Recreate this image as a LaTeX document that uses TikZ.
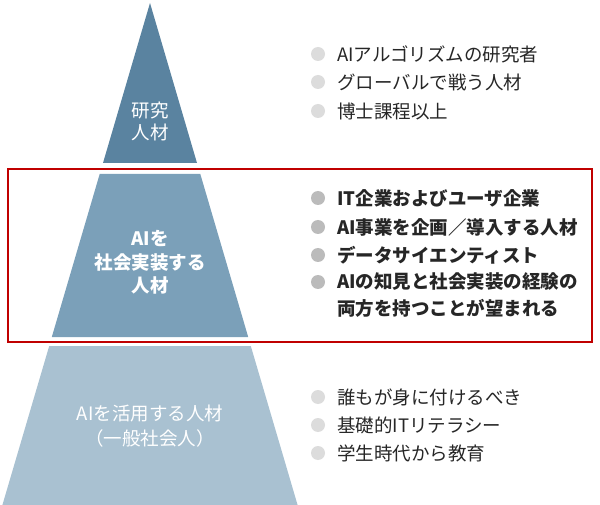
\documentclass[tikz,border=0pt]{standalone}
\usepackage{fontspec}
\setmainfont{Noto Sans CJK JP}
\definecolor{topc}{HTML}{5A83A0}
\definecolor{midc}{HTML}{7BA0B9}
\definecolor{botc}{HTML}{A9C1D1}
\definecolor{redc}{HTML}{C00000}
\definecolor{bulL}{HTML}{DCDCDC}
\definecolor{bulM}{HTML}{BBBBBB}
\tikzset{
  lbl/.style={font=\fontsize{18.5}{22}\selectfont, text=white, inner sep=0pt},
  item/.style={font=\fontsize{18.5}{22}\selectfont, text=black!85, anchor=west, inner sep=0pt},
  bitem/.style={item, font=\fontsize{18.5}{22}\selectfont\bfseries},
  bulletL/.style={circle, fill=bulL, minimum size=14pt, inner sep=0pt},
  bulletM/.style={circle, fill=bulM, minimum size=14pt, inner sep=0pt},
}
\begin{document}
\begin{tikzpicture}[x=1pt,y=-1pt]
\useasboundingbox (0,0) rectangle (600,505);
% pyramid
\fill[topc] (150,3) -- (197,163) -- (103,163) -- cycle;
\fill[midc] (99.7,174) -- (200.3,174) -- (248.2,337) -- (51.8,337) -- cycle;
\fill[botc] (49.2,346) -- (250.8,346) -- (297.6,505) -- (2.4,505) -- cycle;
% red frame
\draw[redc, line width=2pt] (8,169.5) rectangle (592,341.5);
% pyramid labels
\node[lbl] (t1) at (150,110) {研究};
\node[lbl] (t2) at (150,132) {人材};
\node[lbl, font=\fontsize{18.5}{22}\selectfont\bfseries] (m1) at (150,239) {AIを};
\node[lbl, font=\fontsize{18.5}{22}\selectfont\bfseries] (m2) at (150,262) {社会実装する};
\node[lbl, font=\fontsize{18.5}{22}\selectfont\bfseries] (m3) at (150,285) {人材};
\node[lbl] (b1) at (150,414) {AIを活用する人材};
\node[lbl] (b2) at (150,438) {（一般社会人）};
% top list
\node[bulletL] (tb1) at (318,54) {};
\node[bulletL] (tb2) at (318,82) {};
\node[bulletL] (tb3) at (318,111) {};
\node[item] (ti1) at (337,54) {AIアルゴリズムの研究者};
\node[item] (ti2) at (337,82) {グローバルで戦う人材};
\node[item] (ti3) at (337,111) {博士課程以上};
% middle list
\node[bulletM] (mb1) at (318,198) {};
\node[bulletM] (mb2) at (318,227) {};
\node[bulletM] (mb3) at (318,255) {};
\node[bulletM] (mb4) at (318,282) {};
\node[bitem] (mi1) at (337,198) {IT企業およびユーザ企業};
\node[bitem] (mi2) at (337,227) {AI事業を企画／導入する人材};
\node[bitem] (mi3) at (337,255) {データサイエンティスト};
\node[bitem] (mi4) at (337,282) {AIの知見と社会実装の経験の};
\node[bitem] (mi5) at (337,308) {両方を持つことが望まれる};
% bottom list
\node[bulletL] (bb1) at (318,397) {};
\node[bulletL] (bb2) at (318,425) {};
\node[bulletL] (bb3) at (318,453) {};
\node[item] (bi1) at (337,397) {誰もが身に付けるべき};
\node[item] (bi2) at (337,425) {基礎的ITリテラシー};
\node[item] (bi3) at (337,453) {学生時代から教育};
\end{tikzpicture}
\end{document}
